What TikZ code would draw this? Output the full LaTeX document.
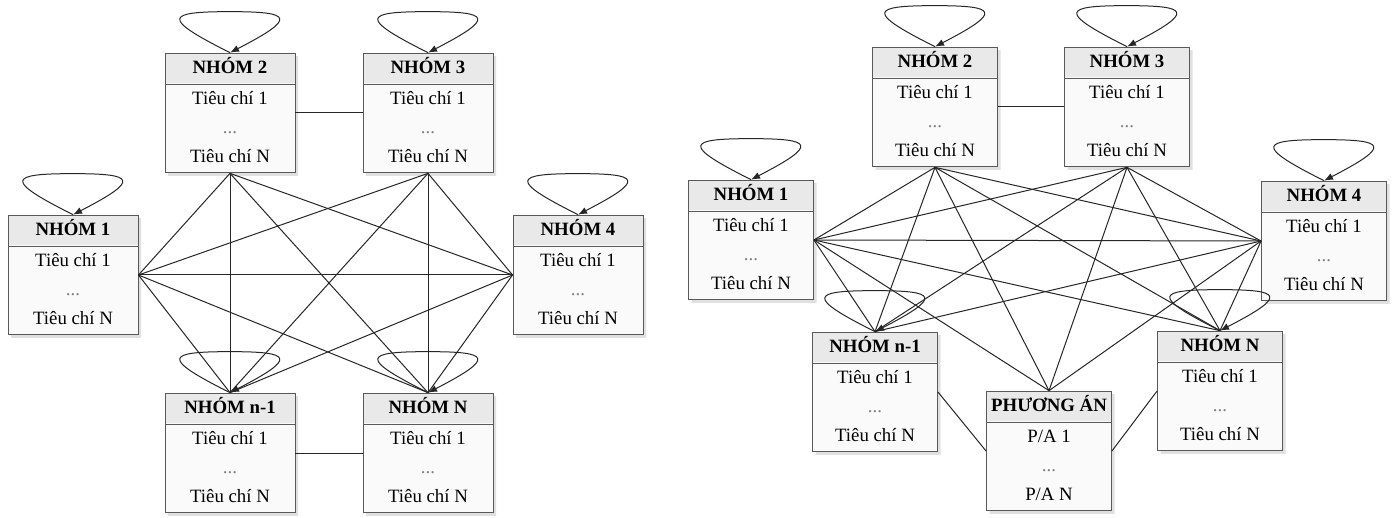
\documentclass[tikz,border=0pt]{standalone}
\usepackage{fontspec}
\setmainfont{Liberation Serif}
\usetikzlibrary{shapes.multipart,shadows,arrows.meta}
\tikzset{
	grp/.style   = {rectangle split, rectangle split parts=2, draw=gray!70!black,
		line width=0.9pt, fill=gray!4, minimum width=130pt, align=center,
		inner ysep=3pt, font=\fontsize{18.8}{24}\selectfont,
		path picture={\fill[gray!17] (path picture bounding box.north west)
			rectangle ([yshift=-30pt]path picture bounding box.north east);},
		drop shadow={shadow xshift=3pt, shadow yshift=-3pt, fill=gray!40, opacity=0.6}},
	grpr/.style  = {grp, minimum width=125pt},
	link/.style  = {draw=black!85, line width=1pt},
	selfloop/.pic = {\draw[link, -{Latex[length=9pt,width=7pt]}] (0,0)
		.. controls (-70pt,35pt) and (-64pt,41pt) .. (0pt,41pt)
		.. controls (62pt,41pt) and (68pt,35pt) .. (0,0);}
}

\begin{document}
\begin{tikzpicture}[x=1pt, y=-1pt]
	\useasboundingbox (0,0) rectangle (1396,518);

	% left: groups only
	\node[grp] (L1) at (73,275) {\textbf{NHÓM 1}\strut\nodepart{two}\strut Tiêu chí 1\\[5pt]\textcolor{gray}{...}\\[5pt]Tiêu chí N\strut};
	\node[grp] (L2) at (230,113) {\textbf{NHÓM 2}\strut\nodepart{two}\strut Tiêu chí 1\\[5pt]\textcolor{gray}{...}\\[5pt]Tiêu chí N\strut};
	\node[grp] (L3) at (428,113) {\textbf{NHÓM 3}\strut\nodepart{two}\strut Tiêu chí 1\\[5pt]\textcolor{gray}{...}\\[5pt]Tiêu chí N\strut};
	\node[grp] (L4) at (578,275) {\textbf{NHÓM 4}\strut\nodepart{two}\strut Tiêu chí 1\\[5pt]\textcolor{gray}{...}\\[5pt]Tiêu chí N\strut};
	\node[grp] (Ln) at (230,453) {\textbf{NHÓM n-1}\strut\nodepart{two}\strut Tiêu chí 1\\[5pt]\textcolor{gray}{...}\\[5pt]Tiêu chí N\strut};
	\node[grp] (LN) at (428,453) {\textbf{NHÓM N}\strut\nodepart{two}\strut Tiêu chí 1\\[5pt]\textcolor{gray}{...}\\[5pt]Tiêu chí N\strut};

	\draw[link] (L2.east)--(L3.west);
	\draw[link] (Ln.east)--(LN.west);
	\draw[link] (L2.south)--(L1.east);
	\draw[link] (L2.south)--(L4.west);
	\draw[link] (L2.south)--(Ln.north);
	\draw[link] (L2.south)--(LN.north);
	\draw[link] (L3.south)--(L1.east);
	\draw[link] (L3.south)--(L4.west);
	\draw[link] (L3.south)--(Ln.north);
	\draw[link] (L3.south)--(LN.north);
	\draw[link] (L1.east)--(L4.west);
	\draw[link] (L1.east)--(Ln.north);
	\draw[link] (L1.east)--(LN.north);
	\draw[link] (L4.west)--(Ln.north);
	\draw[link] (L4.west)--(LN.north);

	\pic at (L1.north) {selfloop};
	\pic at (L2.north) {selfloop};
	\pic at (L3.north) {selfloop};
	\pic at (L4.north) {selfloop};
	\pic at (Ln.north) {selfloop};
	\pic at (LN.north) {selfloop};

	% right: groups + options
	\node[grpr] (R1) at (751,240) {\textbf{NHÓM 1}\strut\nodepart{two}\strut Tiêu chí 1\\[5pt]\textcolor{gray}{...}\\[5pt]Tiêu chí N\strut};
	\node[grpr] (R2) at (935,107) {\textbf{NHÓM 2}\strut\nodepart{two}\strut Tiêu chí 1\\[5pt]\textcolor{gray}{...}\\[5pt]Tiêu chí N\strut};
	\node[grpr] (R3) at (1127,107) {\textbf{NHÓM 3}\strut\nodepart{two}\strut Tiêu chí 1\\[5pt]\textcolor{gray}{...}\\[5pt]Tiêu chí N\strut};
	\node[grpr] (R4) at (1324,241) {\textbf{NHÓM 4}\strut\nodepart{two}\strut Tiêu chí 1\\[5pt]\textcolor{gray}{...}\\[5pt]Tiêu chí N\strut};
	\node[grpr] (Rn) at (875,392) {\textbf{NHÓM n-1}\strut\nodepart{two}\strut Tiêu chí 1\\[5pt]\textcolor{gray}{...}\\[5pt]Tiêu chí N\strut};
	\node[grpr] (RN) at (1220,391) {\textbf{NHÓM N}\strut\nodepart{two}\strut Tiêu chí 1\\[5pt]\textcolor{gray}{...}\\[5pt]Tiêu chí N\strut};
	\node[grpr] (RP) at (1049,451) {\textbf{PHƯƠNG ÁN}\strut\nodepart{two}\strut P/A 1\\[5pt]\textcolor{gray}{...}\\[5pt]P/A N\strut};

	\draw[link] (R2.east)--(R3.west);
	\draw[link] (Rn.east)--(RP.west);
	\draw[link] (RN.west)--(RP.east);
	\draw[link] (R1.east)--(R2.south);
	\draw[link] (R1.east)--(R3.south);
	\draw[link] (R1.east)--(R4.west);
	\draw[link] (R1.east)--(Rn.north);
	\draw[link] (R1.east)--(RN.north);
	\draw[link] (R1.east)--(RP.north);
	\draw[link] (R2.south)--(R4.west);
	\draw[link] (R2.south)--(Rn.north);
	\draw[link] (R2.south)--(RN.north);
	\draw[link] (R2.south)--(RP.north);
	\draw[link] (R3.south)--(R4.west);
	\draw[link] (R3.south)--(Rn.north);
	\draw[link] (R3.south)--(RN.north);
	\draw[link] (R3.south)--(RP.north);
	\draw[link] (R4.west)--(Rn.north);
	\draw[link] (R4.west)--(RN.north);
	\draw[link] (R4.west)--(RP.north);

	\pic at (R1.north) {selfloop};
	\pic at (R2.north) {selfloop};
	\pic at (R3.north) {selfloop};
	\pic at (R4.north) {selfloop};
	\pic at (Rn.north) {selfloop};
	\pic at (RN.north) {selfloop};
\end{tikzpicture}
\end{document}
